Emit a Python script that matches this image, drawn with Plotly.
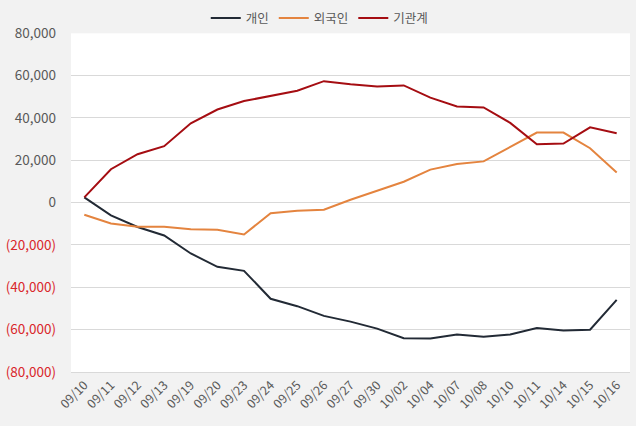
import plotly.graph_objects as go

dates = ["09/10", "09/11", "09/12", "09/13", "09/19", "09/20", "09/23", "09/24", "09/25",
         "09/26", "09/27", "09/30", "10/02", "10/04", "10/07", "10/08", "10/10", "10/11",
         "10/14", "10/15", "10/16"]

individual = [2500, -6000, -11500, -15500, -24000, -30300, -32200, -45400, -48900,
              -53500, -56200, -59500, -64000, -64200, -62300, -63300, -62300, -59200,
              -60400, -60000, -45900]

foreign = [-5700, -9800, -11400, -11400, -12600, -12800, -15000, -5000, -3800,
           -3300, 1400, 5700, 9900, 15600, 18300, 19500, 26200, 33100,
           33100, 25700, 14200]

institution = [2500, 15800, 22900, 26700, 37500, 44000, 48000, 50300, 52900,
               57400, 55900, 54900, 55400, 49600, 45400, 45000, 37700, 27600,
               27900, 35600, 32800]

tick_vals = [80000, 60000, 40000, 20000, 0, -20000, -40000, -60000, -80000]
tick_text = ["80,000", "60,000", "40,000", "20,000", "0",
             "<span style='color:#d9262b'>(20,000)</span>",
             "<span style='color:#d9262b'>(40,000)</span>",
             "<span style='color:#d9262b'>(60,000)</span>",
             "<span style='color:#d9262b'>(80,000)</span>"]

series = [("개인", individual, "#222a35"),
          ("외국인", foreign, "#e4843f"),
          ("기관계", institution, "#a50d12")]

fig = go.Figure()
for name, vals, color in series:
    fig.add_trace(go.Scatter(x=dates, y=vals, name=name, mode="lines",
                             line=dict(color=color, width=2)))

font_family = "Noto Sans CJK KR, Noto Sans, sans-serif"
fig.update_layout(
    width=636, height=426,
    margin=dict(l=71, r=6, t=33, b=54),
    paper_bgcolor="#f2f2f2",
    plot_bgcolor="#ffffff",
    font=dict(family=font_family, size=13, color="#595959"),
    showlegend=True,
    legend=dict(orientation="h", x=0.445, xanchor="center",
                yref="container", y=0.957, yanchor="middle",
                font=dict(size=12.5, color="#595959"), bgcolor="rgba(0,0,0,0)",
                itemwidth=30, tracegroupgap=0),
    xaxis=dict(type="category", range=[-0.5, len(dates) - 0.5], tickangle=-45,
               showgrid=False, showline=True, linecolor="#d9d9d9", linewidth=1,
               ticks="", tickfont=dict(size=12.5, color="#595959"), automargin=False),
    yaxis=dict(range=[-80000, 80000], tickvals=tick_vals, ticktext=tick_text,
               showgrid=True, gridcolor="#d9d9d9", gridwidth=1, zeroline=False,
               showline=False, ticks="", tickfont=dict(size=13.5, color="#595959"),
               ticklabelstandoff=14, automargin=False),
)

fig.write_html("out.html",
               config={"displayModeBar": False},
               post_script="document.body.style.margin='0';"
                           "document.body.style.background='#f2f2f2';")
